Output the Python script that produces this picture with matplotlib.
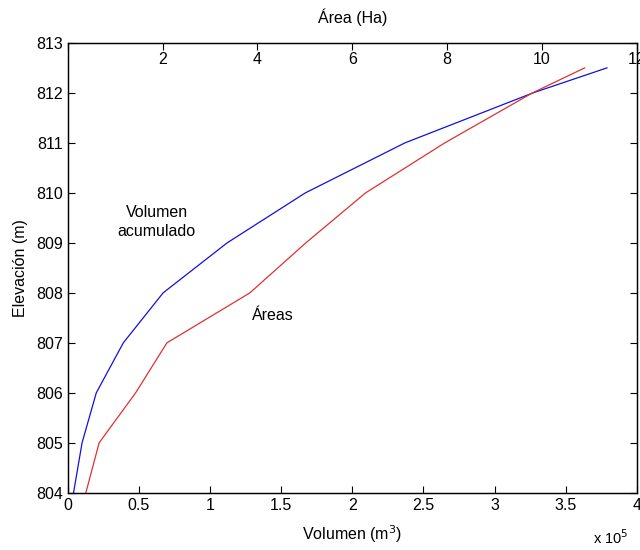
import matplotlib
matplotlib.use("Agg")
import matplotlib.pyplot as plt
from matplotlib.ticker import FuncFormatter

plt.rcParams['font.family'] = ['Liberation Sans', 'DejaVu Sans']

# elevation levels (m)
elev = [804, 805, 806, 807, 808, 809, 810, 811, 812, 812.5]
# cumulative volume (m3)
vol = [4000, 10000, 20000, 39000, 67000, 112000, 167000, 237000, 327000, 379000]
# area (Ha)
area = [0.38, 0.66, 1.43, 2.09, 3.84, 5.02, 6.28, 7.95, 9.8, 10.9]

fig = plt.figure(figsize=(6.4, 5.5), dpi=100)
ax = fig.add_axes([0.106, 0.104, 0.889, 0.818])

ax.plot(vol, elev, color='#1010e0', lw=0.9)
ax.set_xlim(0, 400000)
ax.set_ylim(804, 813)
ax.set_xticks([i * 50000 for i in range(9)])
ax.xaxis.set_major_formatter(FuncFormatter(lambda v, p: '%g' % (v / 1e5)))
ax.set_yticks(range(804, 814))
ax.tick_params(direction='in', length=5, labelsize=11.5, right=True)
ax.set_xlabel('Volumen (m$^3$)', fontsize=11.5, labelpad=8)
ax.set_ylabel('Elevación (m)', fontsize=11.5, labelpad=6)

# area axis on top, its tick labels sit inside the box like the original
ax2 = ax.twiny()
ax2.plot(area, elev, color='#e03030', lw=0.9)
ax2.set_xlim(0, 12)
ax2.set_xticks(range(0, 13, 2))
ax2.set_xticklabels([''] + [str(v) for v in range(2, 13, 2)])
ax2.tick_params(direction='in', length=5, labelsize=11.5, pad=-17)
ax2.set_xlabel('Área (Ha)', fontsize=11.5, labelpad=14)

for a in (ax, ax2):
    for s in a.spines.values():
        s.set_linewidth(0.9)

ax.text(62500, 809.42, 'Volumen\nacumulado', ha='center', va='center',
        fontsize=11.5, linespacing=1.3)
ax.text(144000, 807.54, 'Áreas', ha='center', va='center', fontsize=11.5)
fig.text(0.955, 0.005, 'x 10$^5$', ha='center', va='bottom', fontsize=10.5)

fig.savefig('out.png', dpi=100)
